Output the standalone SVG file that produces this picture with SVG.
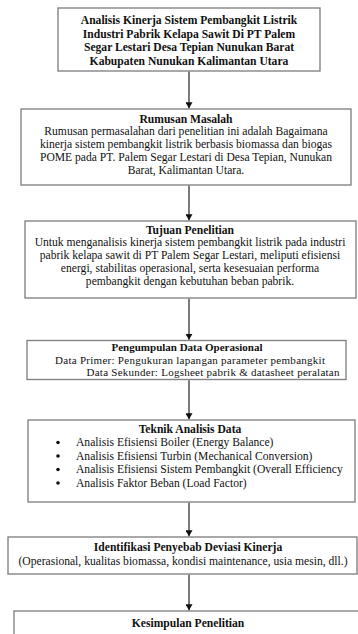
<svg xmlns="http://www.w3.org/2000/svg" width="358" height="634" viewBox="0 0 358 634">
<style>
.box{fill:#fff;stroke:#858585;stroke-width:1.4}
.t{font-family:"Liberation Serif","Times New Roman",serif;font-size:11.6px;fill:#111}
.s{font-size:11px}
.b{font-weight:bold}
.c{text-anchor:middle}
.ln{stroke:#222;stroke-width:1.2;fill:none}
</style>
<defs>
<marker id="ah" markerWidth="6" markerHeight="7" refX="6" refY="3.5" orient="auto" markerUnits="userSpaceOnUse">
<path d="M0,0 L6,3.5 L0,7 Z" fill="#111"/>
</marker>
</defs>
<rect width="358" height="634" fill="#fff"/>
<g id="judul">
<rect class="box" x="58" y="8" width="262" height="63"/>
<text class="t b c" x="189" y="24">Analisis Kinerja Sistem Pembangkit Listrik</text>
<text class="t b c" x="189" y="37.5">Industri Pabrik Kelapa Sawit Di PT Palem</text>
<text class="t b c" x="189" y="51">Segar Lestari Desa Tepian Nunukan Barat</text>
<text class="t b c" x="189" y="64.5">Kabupaten Nunukan Kalimantan Utara</text>
</g>
<g id="rumusan">
<rect class="box" x="21" y="109" width="330" height="76"/>
<text class="t b c" x="186" y="122.5">Rumusan Masalah</text>
<text class="t c" x="186" y="135.3">Rumusan permasalahan dari penelitian ini adalah Bagaimana</text>
<text class="t c" x="186" y="148.1">kinerja sistem pembangkit listrik berbasis biomassa dan biogas</text>
<text class="t c" x="186" y="160.9">POME pada PT. Palem Segar Lestari di Desa Tepian, Nunukan</text>
<text class="t c" x="186" y="173.7">Barat, Kalimantan Utara.</text>
</g>
<g id="tujuan">
<rect class="box" x="25" y="221" width="331" height="77"/>
<text class="t b c" x="190" y="233.5">Tujuan Penelitian</text>
<text class="t c" x="190" y="246.3">Untuk menganalisis kinerja sistem pembangkit listrik pada industri</text>
<text class="t c" x="190" y="259.1">pabrik kelapa sawit di PT Palem Segar Lestari, meliputi efisiensi</text>
<text class="t c" x="190" y="271.9">energi, stabilitas operasional, serta kesesuaian performa</text>
<text class="t c" x="190" y="284.7">pembangkit dengan kebutuhan beban pabrik.</text>
</g>
<g id="pengumpulan">
<rect class="box" x="27" y="340.5" width="319" height="39"/>
<text class="t s b c" x="187" y="351">Pengumpulan Data Operasional</text>
<text class="t s c" x="190" y="363.7" textLength="270" lengthAdjust="spacing">Data Primer: Pengukuran lapangan parameter pembangkit</text>
<text class="t s c" x="213" y="376.4" textLength="253" lengthAdjust="spacing">Data Sekunder: Logsheet pabrik &amp; datasheet peralatan</text>
</g>
<g id="teknik">
<rect class="box" x="28" y="420" width="327" height="82"/>
<text class="t b c" x="190" y="433">Teknik Analisis Data</text>
<circle cx="58" cy="442.5" r="1.8" fill="#111"/>
<text class="t" x="76" y="446">Analisis Efisiensi Boiler (Energy Balance)</text>
<circle cx="58" cy="456" r="1.8" fill="#111"/>
<text class="t" x="76" y="459.5">Analisis Efisiensi Turbin (Mechanical Conversion)</text>
<circle cx="58" cy="469.5" r="1.8" fill="#111"/>
<text class="t" x="76" y="473">Analisis Efisiensi Sistem Pembangkit (Overall Efficiency</text>
<circle cx="58" cy="483" r="1.8" fill="#111"/>
<text class="t" x="76" y="486.5">Analisis Faktor Beban (Load Factor)</text>
</g>
<g id="identifikasi">
<rect class="box" x="8" y="537" width="349" height="37"/>
<text class="t b c" x="188" y="551">Identifikasi Penyebab Deviasi Kinerja</text>
<text class="t c" x="183" y="565">(Operasional, kualitas biomassa, kondisi maintenance, usia mesin, dll.)</text>
</g>
<g id="kesimpulan">
<rect class="box" x="14" y="611" width="350" height="40"/>
<text class="t b c" x="188" y="627">Kesimpulan Penelitian</text>
</g>
<g id="connectors">
<line class="ln" x1="189" y1="71.7" x2="189" y2="108.3" marker-end="url(#ah)"/>
<line class="ln" x1="189" y1="185.7" x2="189" y2="220.3" marker-end="url(#ah)"/>
<line class="ln" x1="189" y1="298.7" x2="189" y2="339.8" marker-end="url(#ah)"/>
<line class="ln" x1="189" y1="380.2" x2="189" y2="419.3" marker-end="url(#ah)"/>
<line class="ln" x1="189" y1="502.7" x2="189" y2="536.3" marker-end="url(#ah)"/>
<line class="ln" x1="189" y1="574.7" x2="189" y2="610.3" marker-end="url(#ah)"/>
</g>
</svg>
